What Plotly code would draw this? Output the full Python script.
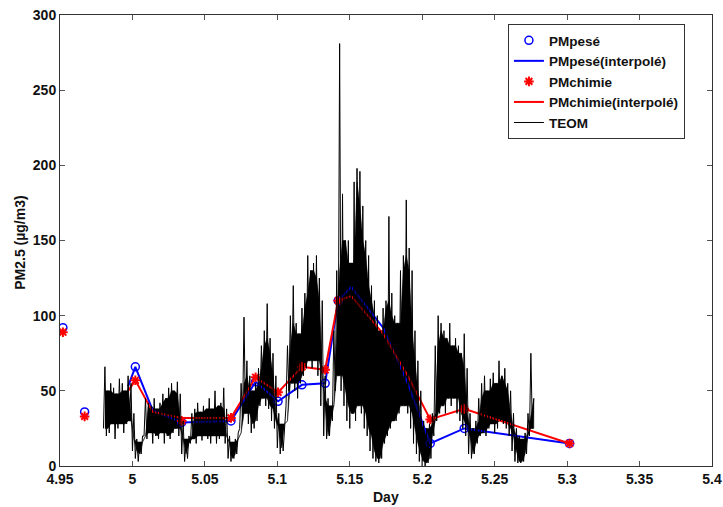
import numpy as np
import plotly.graph_objects as go

# ---------------- data ----------------
# Gravimetric PM2.5 (PMpesé) samples
pes_x = [4.952, 4.967, 5.002, 5.034, 5.068, 5.085, 5.1005, 5.117, 5.133, 5.142, 5.2055, 5.229, 5.3017]
pes_y = [92, 36, 66, 29, 30, 56, 43, 54, 55, 110, 15, 25, 15]

# Chemical reconstruction PM2.5 (PMchimie) samples
chim_x = [4.952, 4.967, 5.002, 5.034, 5.068, 5.085, 5.1005, 5.117, 5.133, 5.142, 5.2055, 5.229, 5.3017]
chim_y = [89, 33, 57, 30, 32, 59, 49, 66, 64, 110, 31, 38, 15]

# Interpolated curves (vertices)
pes_int_x = [4.997, 5.002, 5.014, 5.034, 5.068, 5.085, 5.1005, 5.117, 5.133, 5.142, 5.151, 5.173, 5.19, 5.2055, 5.229, 5.3017]
pes_int_y = [53, 66, 37, 29, 30, 56, 43, 54, 55, 110, 119, 92, 55, 15, 25, 15]
chim_int_x = [4.997, 5.002, 5.014, 5.034, 5.068, 5.085, 5.1005, 5.117, 5.133, 5.142, 5.151, 5.173, 5.19, 5.2055, 5.229, 5.3017]
chim_int_y = [50, 57, 36, 32, 32, 59, 49, 66, 64, 110, 113, 88, 60, 31, 38, 15]

# TEOM: low / high values read in successive 0.002-day windows from 4.980
teom_start = 4.980
teom_step = 0.002
teom_lo = [
    25, 20, 22, 28, 18, 25, 28, 22, 28, 30,
    10, 5, 3, 8, 20, 18, 22, 15, 20, 18,
    22, 15, 20, 18, 22, 25, 20, 8, 3, 5,
    15, 18, 15, 20, 17, 20, 18, 15, 20, 15,
    18, 20, 15, 5, 3, 5, 8, 25, 30, 35,
    28, 22, 25, 30, 40, 45, 40, 38, 30, 25,
    12, 8, 10, 40, 50, 55, 50, 45, 55, 60,
    65, 70, 65, 70, 60, 40, 20, 18, 20, 30,
    50, 60, 50, 40, 30, 25, 35, 30, 40, 35,
    25, 20, 10, 5, 3, 2, 5, 15, 20, 25,
    30, 30, 35, 40, 40, 35, 25, 15, 8, 3,
    0, 0, 2, 5, 20, 30, 35, 40, 35, 45,
    40, 45, 35, 30, 25, 20, 8, 5, 8, 15,
    20, 22, 20, 25, 28, 22, 25, 30, 28, 25,
    20, 10, 3, 2, 2, 3, 8, 20, 25,
]
teom_hi = [
    66, 50, 55, 52, 48, 58, 55, 50, 60, 55,
    35, 18, 16, 20, 45, 42, 40, 45, 38, 42,
    48, 45, 52, 55, 50, 56, 48, 30, 18, 20,
    35, 38, 42, 36, 40, 38, 45, 38, 50, 40,
    42, 52, 38, 20, 16, 18, 22, 55, 99, 70,
    60, 50, 55, 65, 80, 90, 108, 85, 75, 60,
    35, 28, 30, 80, 100, 120, 95, 88, 105, 115,
    140, 130, 135, 140, 125, 110, 60, 45, 40, 90,
    130, 281, 181, 150, 150, 135, 189, 198, 196, 173,
    150, 140, 120, 110, 100, 90, 105, 110, 166, 115,
    100, 95, 130, 140, 177, 145, 130, 90, 70, 50,
    30, 25, 28, 35, 80, 100, 95, 90, 85, 95,
    80, 85, 80, 75, 88, 65, 35, 25, 30, 45,
    55, 60, 50, 58, 62, 55, 70, 60, 65, 55,
    50, 35, 25, 20, 18, 22, 35, 75, 45,
]

# ---------------- build TEOM geometry ----------------
lo = np.array(teom_lo, float)
hi = np.array(teom_hi, float)
n = len(lo)
t = teom_start + teom_step * np.arange(n)
t_hi = t + teom_step / 2

# zig-zag trace: low at window start, high mid-window
teom_x = np.empty(2 * n)
teom_y = np.empty(2 * n)
teom_x[0::2] = t
teom_x[1::2] = t_hi
teom_y[0::2] = lo
teom_y[1::2] = hi

# dense core of the signal: values reached in every neighbouring window
hi_pad = np.concatenate([[hi[0]], hi, [hi[-1]]])
lo_pad = np.concatenate([[lo[0]], lo, [lo[-1]]])
core_top = np.minimum(np.minimum(hi_pad[:-2], hi_pad[1:-1]), hi_pad[2:])
core_bot = np.maximum(np.maximum(lo_pad[:-2], lo_pad[1:-1]), lo_pad[2:])
core_bot = np.minimum(core_bot, core_top)
band_x = np.concatenate([t_hi, t_hi[::-1]])
band_y = np.concatenate([core_top, core_bot[::-1]])

FONT = "Liberation Sans, Arial, sans-serif"
TXT = "#111111"

fig = go.Figure()
fig.add_trace(go.Scatter(
    x=band_x, y=band_y, mode="lines", fill="toself", fillcolor="#000000",
    line=dict(width=0.5, color="#000000"), showlegend=False, hoverinfo="skip",
))
fig.add_trace(go.Scatter(
    x=pes_x, y=pes_y, mode="markers", name="PMpesé",
    marker=dict(symbol="circle-open", size=8, color="#0000ff", line=dict(width=1.5, color="#0000ff")),
))
fig.add_trace(go.Scatter(
    x=pes_int_x, y=pes_int_y, mode="lines", name="PMpesé(interpolé)",
    line=dict(color="#0000ff", width=2),
))
fig.add_trace(go.Scatter(
    x=chim_x, y=chim_y, mode="markers", name="PMchimie",
    marker=dict(symbol="asterisk-open", size=8, color="#ff0000", line=dict(width=2, color="#ff0000")),
))
fig.add_trace(go.Scatter(
    x=chim_int_x, y=chim_int_y, mode="lines", name="PMchimie(interpolé)",
    line=dict(color="#ff0000", width=2),
))
fig.add_trace(go.Scatter(
    x=teom_x, y=teom_y, mode="lines", name="TEOM",
    line=dict(color="#000000", width=1),
))

axis_common = dict(
    showline=True, linecolor="#333333", linewidth=1, mirror="ticks",
    ticks="inside", ticklen=5, tickcolor="#555555",
    showgrid=False, zeroline=False, automargin=False,
    tickfont=dict(family=FONT, size=14, color=TXT, weight="bold"),
)

fig.update_layout(
    width=723, height=507,
    margin=dict(l=60, r=11, t=15, b=41),
    paper_bgcolor="white", plot_bgcolor="white",
    showlegend=True,
    legend=dict(
        x=0.687, y=0.98, xanchor="left", yanchor="top",
        bgcolor="white", bordercolor="#333333", borderwidth=1,
        font=dict(family=FONT, size=13.5, color=TXT, weight="bold"),
        tracegroupgap=0, itemwidth=30,
    ),
    xaxis=dict(
        range=[4.95, 5.4], tickmode="array",
        tickvals=[4.95, 5.0, 5.05, 5.1, 5.15, 5.2, 5.25, 5.3, 5.35, 5.4],
        ticktext=["4.95", "5", "5.05", "5.1", "5.15", "5.2", "5.25", "5.3", "5.35", "5.4"],
        **axis_common,
    ),
    yaxis=dict(
        range=[0, 300], tickmode="array",
        tickvals=[0, 50, 100, 150, 200, 250, 300],
        **axis_common,
    ),
    annotations=[
        dict(text="Day", xref="paper", yref="paper", x=0.5, y=0, yshift=-31,
             xanchor="center", yanchor="middle", showarrow=False,
             font=dict(family=FONT, size=14, color=TXT, weight="bold")),
        dict(text="PM2.5 (µg/m3)", xref="paper", yref="paper", x=-0.0613, y=0.495,
             xanchor="center", yanchor="middle", showarrow=False, textangle=-90,
             font=dict(family=FONT, size=14, color=TXT, weight="bold")),
    ],
)

fig.write_html("out.html", config={"displayModeBar": False},
               post_script="document.body.style.margin='0px';")
